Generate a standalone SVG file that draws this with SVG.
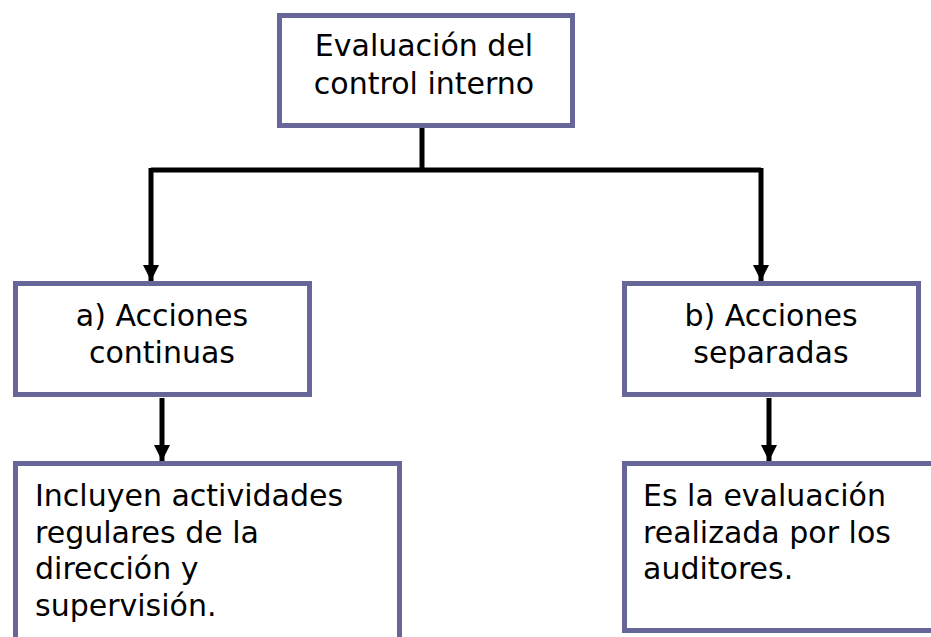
<svg xmlns="http://www.w3.org/2000/svg" width="931" height="637" viewBox="0 0 931 637">
<defs>
<style>
.box{fill:#ffffff;stroke:#666699;stroke-width:5}
.t{font-family:"DejaVu Sans",Verdana,sans-serif;font-size:30px;fill:#000000}
.c{text-anchor:middle}
.ln{stroke:#000000;stroke-width:5;fill:none}
</style>
<marker id="ah" viewBox="0 0 10 10" refX="10" refY="5" markerWidth="3.2" markerHeight="3.2" orient="auto" markerUnits="strokeWidth">
<path d="M0,0 L10,5 L0,10 Z" fill="#000000"/>
</marker>
</defs>
<g id="connectors">
<polyline class="ln" points="422,128 422,170"/>
<polyline class="ln" points="151,170 761,170"/>
<line class="ln" x1="151" y1="168" x2="151" y2="281" marker-end="url(#ah)"/>
<line class="ln" x1="761" y1="168" x2="761" y2="281" marker-end="url(#ah)"/>
<line class="ln" x1="162" y1="398" x2="162" y2="461" marker-end="url(#ah)"/>
<line class="ln" x1="769" y1="398" x2="769" y2="461" marker-end="url(#ah)"/>
</g>
<g id="node-top">
<rect class="box" x="279.5" y="15.5" width="293" height="110"/>
<text class="t c" x="424" y="56">Evaluación del</text>
<text class="t c" x="424" y="94">control interno</text>
</g>
<g id="node-a">
<rect class="box" x="15.5" y="283.5" width="294" height="111"/>
<text class="t c" x="162" y="326">a) Acciones</text>
<text class="t c" x="162" y="363">continuas</text>
</g>
<g id="node-b">
<rect class="box" x="624.5" y="283.5" width="294" height="111"/>
<text class="t c" x="771" y="326">b) Acciones</text>
<text class="t c" x="771" y="363">separadas</text>
</g>
<g id="node-a-desc">
<rect class="box" x="15.5" y="463.5" width="384" height="190"/>
<text class="t" x="35" y="506">Incluyen actividades</text>
<text class="t" x="35" y="543">regulares de la</text>
<text class="t" x="35" y="579">dirección y</text>
<text class="t" x="35" y="616">supervisión.</text>
</g>
<g id="node-b-desc">
<rect class="box" x="624.5" y="463.5" width="320" height="167"/>
<text class="t" x="643" y="506">Es la evaluación</text>
<text class="t" x="643" y="543">realizada por los</text>
<text class="t" x="643" y="579">auditores.</text>
</g>
</svg>
